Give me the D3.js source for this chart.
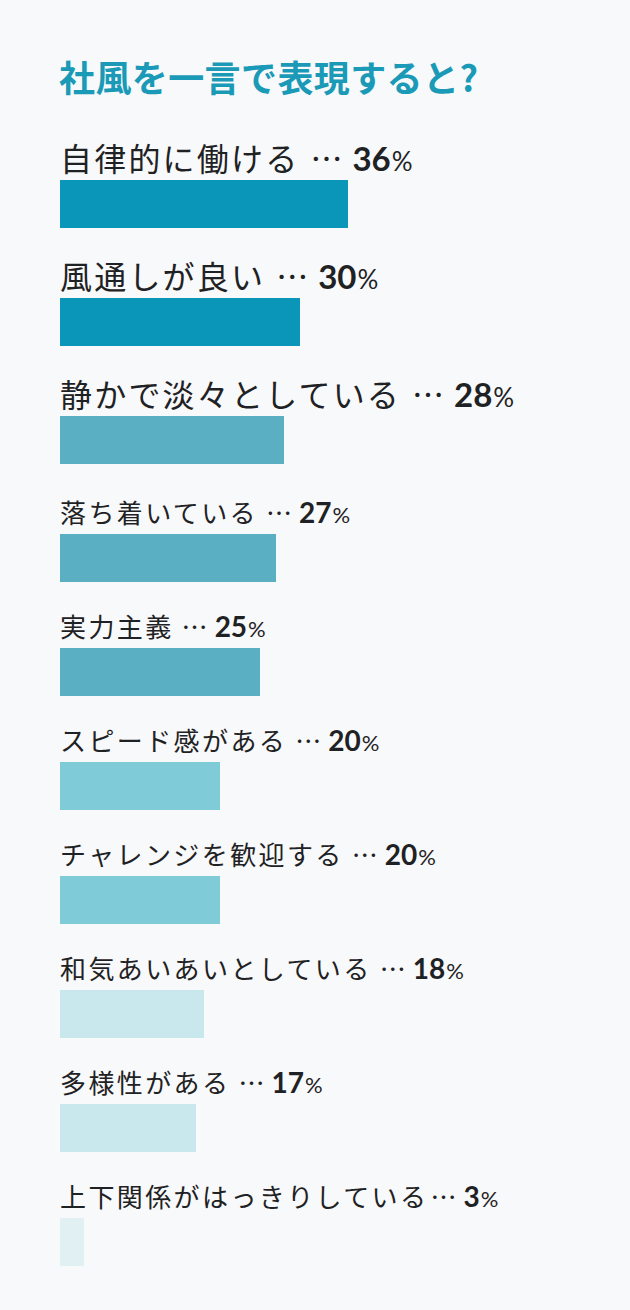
<!DOCTYPE html>
<html lang="ja">
<head>
<meta charset="utf-8">
<script src="https://cdn.jsdelivr.net/npm/d3@7"></script>
<style>
  html, body { margin: 0; padding: 0; background: #f8f9fa; }
  svg { display: block; }
</style>
</head>
<body>
<div id="chart"></div>
<script>
// データ
const title = '社風を一言で表現すると?';
const labels = [
  '自律的に働ける', '風通しが良い', '静かで淡々としている', '落ち着いている', '実力主義',
  'スピード感がある', 'チャレンジを歓迎する', '和気あいあいとしている', '多様性がある',
  '上下関係がはっきりしている'
];
const values = [36, 30, 28, 27, 25, 20, 20, 18, 17, 3];
const gaps = [1, 1, 1, 1, 1, 1, 1, 1, 1, 0]; // 「…」の前に空きがあるか

const width = 630, height = 1310;
const left = 60, barH = 48;

const svg = d3.select('#chart').append('svg')
  .attr('width', width).attr('height', height)
  .attr('viewBox', `0 0 ${width} ${height}`);

svg.append('rect').attr('width', width).attr('height', height).attr('fill', '#f8f9fa');

// タイトル
svg.append('text')
  .attr('x', left - 1).attr('y', 92)
  .attr('font-family', '"Noto Sans CJK JP", sans-serif')
  .attr('font-weight', 700).attr('font-size', 36)
  .attr('letter-spacing', 0.4)
  .attr('fill', '#1a9ab7')
  .text(title);

// スケール
const x = d3.scaleLinear().domain([0, 50]).range([left, left + 400]);
const color = d3.scaleThreshold()
  .domain([10, 20, 25, 30])
  .range(['#e0f0f3', '#c8e8ee', '#80cbd8', '#5aafc3', '#0a96b8']);

// 行の位置 (上位3件は大きい見出し)
const steps = values.map((d, i) => (i < 3 ? 118 : 114));
const tops = values.map((d, i) => 180 + d3.sum(steps.slice(0, i)));
const big = i => i < 3;

const rows = svg.selectAll('g.row')
  .data(values)
  .enter().append('g')
  .attr('class', 'row')
  .attr('transform', (d, i) => `translate(0,${tops[i]})`);

rows.append('rect')
  .attr('x', x(0))
  .attr('y', 0)
  .attr('width', d => x(d) - x(0))
  .attr('height', barH)
  .attr('fill', d => color(d));

const txt = rows.append('text')
  .attr('x', left)
  .attr('y', (d, i) => (big(i) ? -9 : -11))
  .attr('fill', '#1f2224');

txt.append('tspan')
  .attr('font-family', '"Noto Sans CJK JP", sans-serif')
  .attr('font-size', (d, i) => (big(i) ? 32 : 26))
  .attr('letter-spacing', (d, i) => (big(i) ? 2.2 : 2.4))
  .text((d, i) => labels[i]);

txt.append('tspan')
  .attr('font-family', '"Noto Sans CJK JP", sans-serif')
  .attr('font-size', (d, i) => (big(i) ? 32 : 26))
  .attr('dx', (d, i) => (gaps[i] ? (big(i) ? 11 : 8) : 2))
  .text('…');

txt.append('tspan')
  .attr('font-family', 'Lato, sans-serif')
  .attr('font-weight', 700)
  .attr('font-size', (d, i) => (big(i) ? 33 : 28))
  .attr('dx', (d, i) => (big(i) ? 10 : 7))
  .text(d => d);

txt.append('tspan')
  .attr('font-family', 'Lato, sans-serif')
  .attr('font-weight', 400)
  .attr('font-size', (d, i) => (big(i) ? 26 : 22))
  .attr('dx', 1)
  .text('%');
</script>
</body>
</html>
